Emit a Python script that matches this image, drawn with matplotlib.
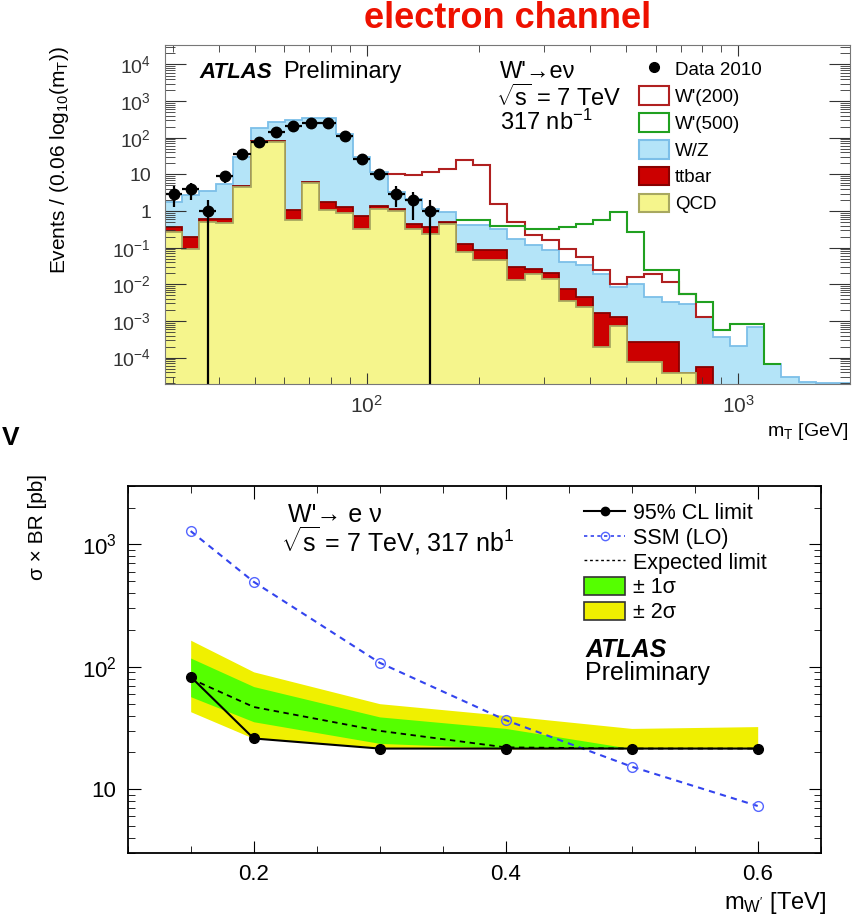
import numpy as np
import matplotlib.pyplot as plt
from matplotlib.lines import Line2D
from matplotlib.patches import Patch
from matplotlib.ticker import FixedLocator, LogLocator, NullFormatter, MultipleLocator

plt.rcParams['font.family'] = ['Liberation Sans', 'DejaVu Sans']
plt.rcParams['mathtext.fontset'] = 'custom'
plt.rcParams['mathtext.rm'] = 'Liberation Sans'
plt.rcParams['mathtext.it'] = 'Liberation Sans:italic'
plt.rcParams['mathtext.bf'] = 'Liberation Sans:bold'

# ---- top panel: mT distribution (log bins)
mt_lo, mt_hi, n_bins = 28.6, 2000.0, 40

# cumulative stack tops, per bin
stack_qcd = [0.27, 0.094, 0.5, 0.48, 4.5, 77, 77, 0.56, 5.8, 1.1,
             0.88, 0.33, 1.16, 1.0, 0.33, 0.24, 0.45, 0.076, 0.045, 0.045,
             0.013, 0.0195, 0.014, 0.0036, 0.0024, 0.00019, 0.00075, 7.4e-5, 7.4e-5, 3.7e-5,
             3.7e-5, 0, 0, 0, 0, 0, 0, 0, 0, 0]
stack_ttbar = [0.366, 0.195, 0.62, 0.62, 4.8, 80, 80, 1.05, 6.1, 1.76,
               1.29, 0.72, 1.34, 1.16, 0.45, 0.37, 0.5, 0.128, 0.085, 0.085,
               0.030, 0.027, 0.021, 0.0075, 0.0045, 0.0016, 0.0013, 0.00026, 0.00026, 0.00026,
               3.7e-5, 5.4e-5, 0, 0, 0, 0, 0, 0, 0, 0]
stack_wz = [1.8, 2.7, 3.5, 5.6, 30, 180, 270, 315, 340, 340,
            130, 30, 11.7, 3.3, 2.2, 1.16, 0.94, 0.41, 0.41, 0.33,
            0.176, 0.116, 0.085, 0.041, 0.033, 0.0195, 0.0083, 0.0104, 0.0045, 0.0032,
            0.0029, 0.00127, 0.00036, 0.00021, 0.00068, 6.7e-5, 2.9e-5, 2.1e-5, 2.0e-5, 2.0e-5]

# signal + background lines, first bin index given
w200_first = 13
w200 = [10.5, 9.4, 11.6, 14.4, 24.4, 17.9, 1.59, 0.50, 0.217, 0.158,
        0.094, 0.055, 0.024, 0.0104, 0.0158, 0.0195, 0.0114, 0.0055, 0.00127]
w500_first = 17
w500 = [0.58, 0.58, 0.39, 0.39, 0.33, 0.33, 0.37, 0.45, 0.56, 0.94,
        0.27, 0.024, 0.024, 0.0055, 0.0032, 0.00055, 0.00083, 0.00083, 6.7e-5]

data_2010 = [3, 4, 1, 9, 37, 77, 144, 206, 254, 254, 110, 27, 10, 3, 2, 1]

# ---- bottom panel: limits
mass = [0.15, 0.2, 0.3, 0.4, 0.5, 0.6]
obs_limit = [83, 26, 21.5, 21.5, 21.5, 21.5]
ssm_lo = [1285, 495, 108, 36.7, 15.3, 7.3]
exp_limit = [80, 47, 30, 22, 21.5, 21.5]
exp_1s_lo = [57, 35.6, 23.7, 21.6, 21.5, 21.5]
exp_1s_hi = [118, 69, 39, 31.4, 21.5, 21.5]
exp_2s_lo = [43, 26, 22, 21.3, 21.5, 21.5]
exp_2s_hi = [165, 91, 50, 40, 31.4, 32.5]

c_wz, c_wz_edge = '#b4e4f8', '#7cbfe8'
c_tt = '#cc0000'
c_qcd, c_qcd_edge = '#f5f58c', '#a8a860'

fig = plt.figure(figsize=(8.54, 9.17), dpi=100)

# ================= top
ax = fig.add_axes([0.1932, 0.5812, 0.802, 0.3697])
edges = np.logspace(np.log10(mt_lo), np.log10(mt_hi), n_bins + 1)
floor = 1e-7

for vals, fc, ec in [(stack_wz, c_wz, c_wz_edge), (stack_ttbar, c_tt, '#880000'),
                     (stack_qcd, c_qcd, c_qcd_edge)]:
    v = np.maximum(np.array(vals, float), floor)
    ax.stairs(v, edges, baseline=floor, fill=True, color=fc, lw=0)
    ax.stairs(v, edges, baseline=floor, color=ec, lw=1.3)

ax.stairs(w200, edges[w200_first:w200_first + len(w200) + 1], baseline=None,
          color='#b02020', lw=1.5)
ax.stairs(w500, edges[w500_first:w500_first + len(w500) + 1], baseline=None,
          color='#20a020', lw=1.5)

d = np.array(data_2010, float)
nd = len(d)
cen = np.sqrt(edges[:nd] * edges[1:nd + 1])
lo_end = np.maximum(d - np.sqrt(d), floor)
hi_end = d + np.sqrt(d)
ax.errorbar(cen, d, yerr=[d - lo_end, hi_end - d],
            xerr=[cen - edges[:nd], edges[1:nd + 1] - cen],
            fmt='o', color='black', ms=7.5, elinewidth=1.6, capsize=0)

ax.set_xscale('log')
ax.set_yscale('log')
ax.set_xlim(mt_lo, mt_hi)
ax.set_ylim(1.9e-5, 3.4e4)

yt = [1e-4, 1e-3, 1e-2, 1e-1, 1, 10, 1e2, 1e3, 1e4]
ax.yaxis.set_major_locator(FixedLocator(yt))
ax.set_yticklabels(['10$^{-4}$', '10$^{-3}$', '10$^{-2}$', '10$^{-1}$', '1', '10',
                    '10$^{2}$', '10$^{3}$', '10$^{4}$'])
ax.yaxis.set_minor_locator(LogLocator(base=10, subs=np.arange(2, 10), numticks=20))
ax.yaxis.set_minor_formatter(NullFormatter())
ax.xaxis.set_major_locator(FixedLocator([100, 1000]))
ax.set_xticklabels(['10$^{2}$', '10$^{3}$'])
ax.xaxis.set_minor_locator(LogLocator(base=10, subs=np.arange(2, 10), numticks=20))
ax.xaxis.set_minor_formatter(NullFormatter())
ax.tick_params(which='both', direction='in', top=True, right=True, colors='#333333')
ax.tick_params(axis='y', which='major', length=15, labelsize=14, pad=10)
ax.tick_params(axis='y', which='minor', length=7)
ax.tick_params(axis='x', which='major', length=8, labelsize=15, pad=8)
ax.tick_params(axis='x', which='minor', length=5)
for s in ax.spines.values():
    s.set_color('#777777')

ax.text(0.051, 0.92, 'ATLAS', transform=ax.transAxes, fontsize=16,
        fontweight='bold', style='italic', va='center')
ax.text(0.172, 0.92, 'Preliminary', transform=ax.transAxes, fontsize=17, va='center')
ax.text(0.489, 0.92, "W'\u2192e\u03bd", transform=ax.transAxes, fontsize=17, va='center')
ax.text(0.484, 0.846, r'$\sqrt{\mathrm{s}}$ = 7 TeV', transform=ax.transAxes, fontsize=17,
        va='center')
ax.text(0.489, 0.773, '317 nb$^{-1}$', transform=ax.transAxes, fontsize=17, va='center')

handles = [Line2D([], [], marker='o', color='black', ls='none', ms=7),
           Patch(facecolor='white', edgecolor='#b02020', lw=1.5),
           Patch(facecolor='white', edgecolor='#20a020', lw=1.5),
           Patch(facecolor=c_wz, edgecolor=c_wz_edge, lw=1.5),
           Patch(facecolor=c_tt, edgecolor='#880000', lw=1.5),
           Patch(facecolor=c_qcd, edgecolor=c_qcd_edge, lw=1.5)]
labels = ['Data 2010', "W'(200)", "W'(500)", 'W/Z', 'ttbar', 'QCD']
ax.legend(handles, labels, loc='upper left', bbox_to_anchor=(0.675, 0.99),
          frameon=False, fontsize=13.5, handlelength=1.6, handleheight=1.15,
          labelspacing=0.38, handletextpad=0.35, borderaxespad=0.2)

fig.text(60 / 854, 1 - 160 / 917, 'Events / (0.06 log$_{10}$(m$_{\\mathrm{T}}$))', rotation=90,
         ha='center', va='center', fontsize=15)
fig.text(848 / 854, 1 - 432 / 917, 'm$_{\\mathrm{T}}$ [GeV]', ha='right', va='center',
         fontsize=14)
fig.text(0.5 + 0.5 * 165 / 854 - 0.5 * 4 / 854, 1 - 19 / 917, 'electron channel',
         ha='center', va='center', fontsize=26, fontweight='bold', color='#ee1100')
fig.text(0.002, 1 - 438 / 917, 'V', ha='left', va='center', fontsize=19, fontweight='bold')

# ================= bottom
bx = fig.add_axes([0.1495, 0.0695, 0.8115, 0.4005])
bx.fill_between(mass, exp_2s_lo, exp_2s_hi, color='#f0f000', lw=0)
bx.fill_between(mass, exp_1s_lo, exp_1s_hi, color='#55ff00', lw=0)
bx.plot(mass, exp_limit, color='black', ls=(0, (3, 2.5)), lw=1.3)
bx.plot(mass, ssm_lo, color='#3344ee', ls=(0, (3, 2.5)), lw=1.5, marker='o',
        mfc='none', mec='#5566ff', ms=7)
bx.plot(mass, obs_limit, color='black', lw=1.5, marker='o', ms=7)

bx.set_yscale('log')
bx.set_xlim(0.1, 0.65)
bx.set_ylim(3.0, 3000)
bx.yaxis.set_major_locator(FixedLocator([10, 100, 1000]))
bx.set_yticklabels(['10', '10$^{2}$', '10$^{3}$'])
bx.yaxis.set_minor_locator(LogLocator(base=10, subs=np.arange(2, 10), numticks=20))
bx.yaxis.set_minor_formatter(NullFormatter())
bx.xaxis.set_major_locator(FixedLocator([0.2, 0.4, 0.6]))
bx.set_xticklabels(['0.2', '0.4', '0.6'])
bx.xaxis.set_minor_locator(MultipleLocator(0.05))
bx.tick_params(which='both', direction='in', top=True, right=True)
bx.tick_params(which='major', length=9, labelsize=16, pad=8)
bx.tick_params(which='minor', length=5)
for s in bx.spines.values():
    s.set_linewidth(1.3)

bx.text(0.231, 0.921, "W'\u2192 e \u03bd", transform=bx.transAxes, fontsize=18, va='center')
bx.text(0.221, 0.850, r'$\sqrt{\mathrm{s}}$ = 7 TeV, 317 nb$^{1}$', transform=bx.transAxes,
        fontsize=18, va='center')
bx.text(0.66, 0.553, 'ATLAS', transform=bx.transAxes, fontsize=18, fontweight='bold',
        style='italic', va='center')
bx.text(0.66, 0.491, 'Preliminary', transform=bx.transAxes, fontsize=18, va='center')

bh = [Line2D([], [], color='black', lw=1.5, marker='o', ms=6),
      Line2D([], [], color='#3344ee', ls=(0, (2, 2)), lw=1.2, marker='o', mfc='none',
             mec='#5566ff', ms=6),
      Line2D([], [], color='black', ls=(0, (2, 2)), lw=1.0),
      Patch(facecolor='#55ff00', edgecolor='#333333', lw=1.2),
      Patch(facecolor='#f0f000', edgecolor='#333333', lw=1.2)]
bl = ['95% CL limit', 'SSM (LO)', 'Expected limit', '\u00b1 1\u03c3', '\u00b1 2\u03c3']
bx.legend(bh, bl, loc='upper left', bbox_to_anchor=(0.64, 0.99), frameon=False,
          fontsize=15.5, handlelength=1.9, handleheight=0.9, labelspacing=0.16,
          handletextpad=0.35, borderaxespad=0.2)

fig.text(38 / 854, 1 - 527 / 917, '\u03c3 \u00d7 BR [pb]', rotation=90, ha='center',
         va='center', fontsize=15)
fig.text(826 / 854, 1 - 903 / 917, "m$_{\\mathrm{W'}}$ [TeV]", ha='right', va='center',
         fontsize=17)

fig.savefig('out.png', dpi=100)
